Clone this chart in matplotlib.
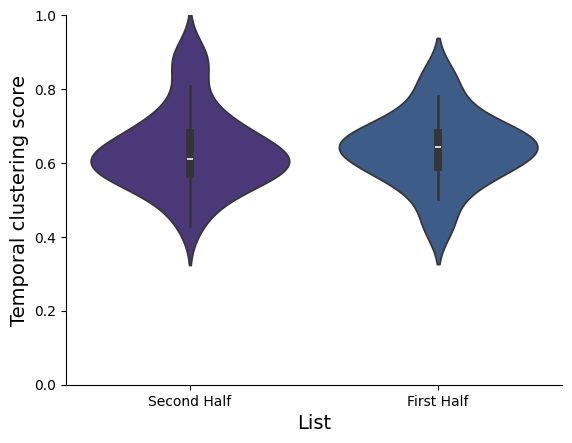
import pandas as pd
import seaborn as sns
from matplotlib import pyplot as plt

# list labels, in plotting order
lists = ["Second Half", "First Half"]
colors = ["#4a3878", "#3e5c88"]

# temporal clustering scores per list
second_half = [0.430, 0.468, 0.498, 0.518, 0.534, 0.546, 0.555, 0.562, 0.567, 0.570,
               0.577, 0.584, 0.590, 0.596, 0.601, 0.605, 0.608, 0.609, 0.613,
               0.620, 0.628, 0.636, 0.644, 0.652, 0.660, 0.668, 0.678, 0.686,
               0.700, 0.715, 0.735, 0.760, 0.808, 0.870, 0.882, 0.894]
first_half = [0.425, 0.440, 0.503, 0.530, 0.550, 0.565, 0.576, 0.586, 0.594,
              0.603, 0.612, 0.620, 0.628, 0.635, 0.641, 0.645,
              0.650, 0.656, 0.662, 0.668, 0.673, 0.679, 0.683,
              0.695, 0.710, 0.728, 0.750, 0.781, 0.830, 0.840]

df = pd.DataFrame({
    "List": [lists[0]] * len(second_half) + [lists[1]] * len(first_half),
    "score": second_half + first_half,
})

fig, ax = plt.subplots(figsize=(5.72, 4.43), dpi=100)
sns.violinplot(data=df, x="List", y="score", hue="List", order=lists, hue_order=lists,
               palette=colors, saturation=1, legend=False, ax=ax)
ax.set_ylim(0, 1)
ax.set_xlabel("List", fontsize=14)
ax.set_ylabel("Temporal clustering score", fontsize=14)
sns.despine(ax=ax)
fig.subplots_adjust(left=0.115, right=0.983, top=0.966, bottom=0.131)
fig.savefig("out.png")
